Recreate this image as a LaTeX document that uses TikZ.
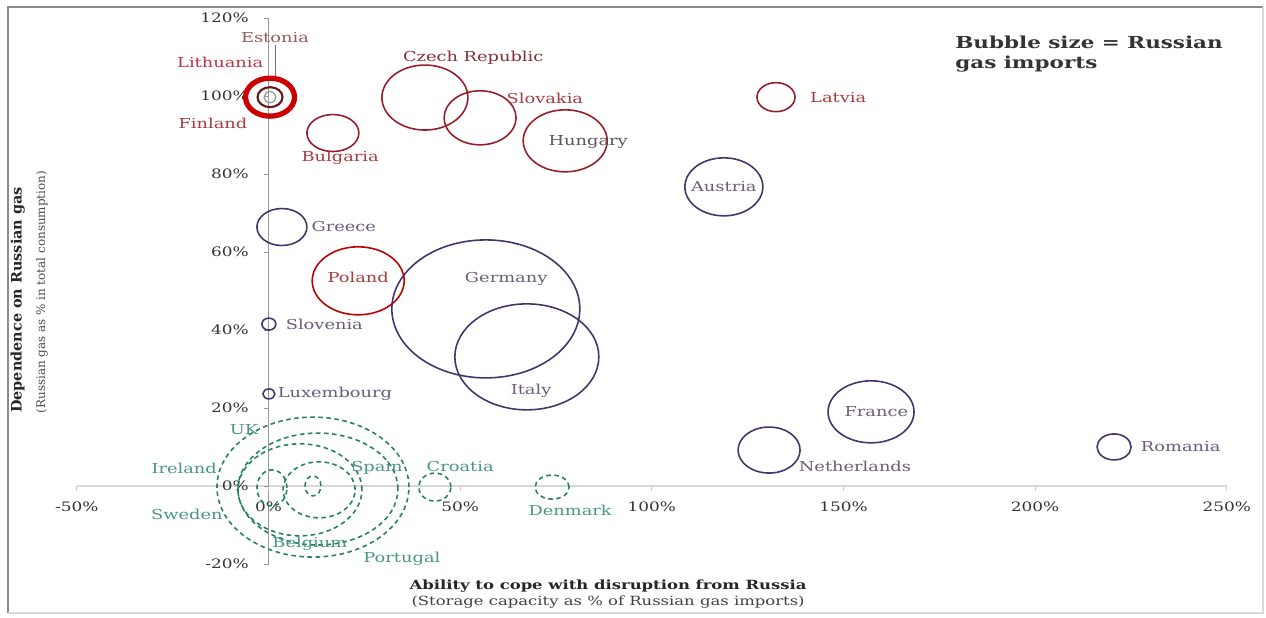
\documentclass[tikz,border=0pt]{standalone}
\usepackage{fontspec}
\setmainfont{DejaVu Serif}[FakeStretch=1.3]
\newfontfamily\uprightserif{DejaVu Serif}
\usetikzlibrary{positioning, shapes.geometric}

\definecolor{ruby}{RGB}{150,30,40}
\definecolor{rubytext}{RGB}{165,60,62}
\definecolor{plum}{RGB}{68,52,105}
\definecolor{plumtext}{RGB}{105,92,122}
\definecolor{jade}{RGB}{38,128,98}
\definecolor{jadetext}{RGB}{72,150,130}

\begin{document}
\begin{tikzpicture}[
    x=0.07667cm, y=0.078cm,
    bub/.style={draw, ellipse, inner sep=0pt, line width=0.9pt},
    redbub/.style={bub, ruby},
    blubub/.style={bub, plum},
    grnbub/.style={bub, jade, dash pattern=on 2.6pt off 2pt},
    lbl/.style={font=\fontsize{7.8}{9}\selectfont, inner sep=1pt},
    redlbl/.style={lbl, text=rubytext},
    blulbl/.style={lbl, text=plumtext},
    grnlbl/.style={lbl, text=jadetext},
    ticklbl/.style={font=\fontsize{7.4}{9}\selectfont, text=black!80, inner sep=1pt},
    node distance=2pt
]
\useasboundingbox (-70.05,-33.85) rectangle (260.24,124.62);

% frame
\draw[black!45, line width=1.3pt] (-67.96,-32.6) -- (-67.96,122.8) -- (259.5,122.8);
\draw[black!15, line width=0.8pt] (259.5,122.8) -- (259.5,-32.6) -- (-67.96,-32.6);

% axes
\draw[black!15, line width=0.8pt] (-50,0) -- (250,0);
\draw[black!40, line width=0.6pt] (0,-20) -- (0,120);
\foreach \x in {-50,0,50,100,150,200,250} {
  \draw[black!20] (\x,0) -- (\x,-1.2);
  \node[ticklbl] (xt\x) at (\x,-5.4) {\x\%};
}
\foreach \y in {-20,0,20,40,60,80,100,120} {
  \draw[black!40] (0,\y) -- (-1.3,\y);
  \node[ticklbl, anchor=east] (yt\y) at (-4.6,\y) {\y\%};
}

% red bubbles
\node[redbub, red!80!black, line width=3pt, minimum width=0.98cm, minimum height=0.76cm] (lithuania) at (0.4,99.7) {};
\node[redbub, ruby!70!black, line width=1.2pt, minimum width=0.50cm, minimum height=0.40cm] (finland) at (0.4,99.7) {};
\node[redbub, black!40, line width=0.7pt, minimum width=0.24cm, minimum height=0.22cm] (estonia) at (0.4,99.7) {};
\node[redbub, minimum width=1.72cm, minimum height=1.30cm] (czech) at (40.8,99.6) {};
\node[redbub, minimum width=1.44cm, minimum height=1.08cm] (slovakia) at (55.2,94.4) {};
\node[redbub, minimum width=1.68cm, minimum height=1.24cm] (hungary) at (77.4,88.5) {};
\node[redbub, minimum width=1.04cm, minimum height=0.74cm] (bulgaria) at (16.8,90.5) {};
\node[redbub, minimum width=0.76cm, minimum height=0.58cm] (latvia) at (132.4,99.7) {};
\node[redbub, red!75!black, minimum width=1.84cm, minimum height=1.36cm] (poland) at (23.4,52.6) {};

% purple bubbles
\node[blubub, minimum width=1.56cm, minimum height=1.16cm] (austria) at (118.8,76.7) {};
\node[blubub, minimum width=1.00cm, minimum height=0.74cm] (greece) at (3.5,66.4) {};
\node[blubub, minimum width=3.76cm, minimum height=2.76cm] (germany) at (56.7,45.4) {};
\node[blubub, minimum width=2.88cm, minimum height=2.12cm] (italy) at (67.4,33.1) {};
\node[blubub, minimum width=0.28cm, minimum height=0.24cm] (slovenia) at (0.1,41.5) {};
\node[blubub, minimum width=0.24cm, minimum height=0.20cm] (luxembourg) at (0.1,23.6) {};
\node[blubub, minimum width=1.72cm, minimum height=1.24cm] (france) at (157.2,19.0) {};
\node[blubub, minimum width=1.24cm, minimum height=0.92cm] (netherlands) at (130.6,9.2) {};
\node[blubub, minimum width=0.68cm, minimum height=0.52cm] (romania) at (220.6,10.0) {};

% green bubbles
\node[grnbub, minimum width=3.84cm, minimum height=2.80cm] (uk) at (11.6,-0.3) {};
\node[grnbub, minimum width=3.20cm, minimum height=2.24cm] (belgium) at (12.9,-0.8) {};
\node[grnbub, minimum width=2.48cm, minimum height=1.84cm] (portugal) at (8.2,-1.0) {};
\node[grnbub, minimum width=1.44cm, minimum height=1.12cm] (spain) at (13.2,-1.0) {};
\node[grnbub, minimum width=0.60cm, minimum height=0.72cm] (ireland) at (0.9,-0.5) {};
\node[grnbub, minimum width=0.32cm, minimum height=0.40cm] (sweden) at (11.6,0) {};
\node[grnbub, minimum width=0.64cm, minimum height=0.56cm] (croatia) at (43.4,-0.3) {};
\node[grnbub, minimum width=0.68cm, minimum height=0.48cm] (denmark) at (74.0,-0.3) {};

% red labels
\node[redlbl, text=rubytext!55!gray] (lestonia) at (1.7,114.9) {Estonia};
\draw[rubytext!40!gray, thin] (lestonia.south) -- (lestonia.south |- lithuania.north);
\node[redlbl, text={rgb,255:red,190;green,50;blue,70}] (llithuania) at (-12.6,108.5) {Lithuania};
\node[redlbl] (lfinland) at (-14.5,93.1) {Finland};
\node[redlbl, text=rubytext!80!black] (lczech) at (53.4,109.7) {Czech Republic};
\node[redlbl] (lslovakia) at (72.1,99.5) {Slovakia};
\node[redlbl, text=black!65] (lhungary) at (83.4,88.2) {Hungary};
\node[redlbl] (lbulgaria) at (18.7,84.1) {Bulgaria};
\node[redlbl, right=7pt of latvia] (llatvia) {Latvia};
\node[redlbl] (lpoland) at ([yshift=2pt]poland.center) {Poland};

% purple labels
\node[blulbl] (laustria) at (austria.center) {Austria};
\node[blulbl, right=1pt of greece] (lgreece) {Greece};
\node[blulbl] (lgermany) at (62.0,53.1) {Germany};
\node[blulbl] (litaly) at (68.5,24.4) {Italy};
\node[blulbl, right=4pt of slovenia] (lslovenia) {Slovenia};
\node[blulbl, right=0pt of luxembourg] (lluxembourg) {Luxembourg};
\node[blulbl] (lfrance) at ([xshift=3pt]france.center) {France};
\node[blulbl] (lnetherlands) at (153.0,5.1) {Netherlands};
\node[blulbl, right=4pt of romania] (lromania) {Romania};

% green labels
\node[grnlbl] (luk) at (-6.4,14.4) {UK};
\node[grnlbl] (lireland) at (-22.0,4.6) {Ireland};
\node[grnlbl] (lsweden) at (-21.3,-7.4) {Sweden};
\node[grnlbl] (lspain) at (28.3,4.6) {Spain};
\node[grnlbl] (lcroatia) at (50.0,5.1) {Croatia};
\node[grnlbl] (lbelgium) at (10.8,-14.9) {Belgium};
\node[grnlbl] (lportugal) at (34.8,-18.7) {Portugal};
\node[grnlbl] (ldenmark) at (78.7,-6.2) {Denmark};

% legend and axis titles
\node[font=\bfseries\fontsize{9.4}{11.5}\selectfont, text=black!80, align=left, anchor=north west, inner sep=0pt] (legend) at (179.1,115.6) {Bubble size = Russian\\gas imports};
\node[font=\bfseries\fontsize{7.2}{9}\selectfont, text=black!85, inner sep=1pt] (xtitle) at (88.6,-25.6) {Ability to cope with disruption from Russia};
\node[font=\fontsize{7.2}{9}\selectfont, text=black!75, inner sep=1pt, below=0pt of xtitle] (xsub) {(Storage capacity as \% of Russian gas imports)};
\node[font=\uprightserif\bfseries\fontsize{8.2}{10}\selectfont, text=black!85, rotate=90] (ytitle) at (-65.4,47.7) {Dependence on Russian gas};
\node[font=\uprightserif\fontsize{6.8}{8}\selectfont, text=black!70, rotate=90] (ysub) at (-59.1,49.7) {(Russian gas as \% in total consumption)};
\end{tikzpicture}
\end{document}
